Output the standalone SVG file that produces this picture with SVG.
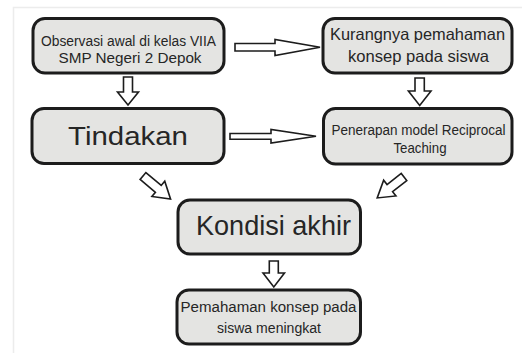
<svg xmlns="http://www.w3.org/2000/svg" width="522" height="353" viewBox="0 0 522 353">
<style>
.box{fill:#e4e4e2;stroke:#1c1c1c;stroke-width:3}
.t{font-family:"Liberation Sans",Arial,sans-serif;fill:#262626;text-anchor:middle}
.arr{fill:#fff;stroke:#1c1c1c;stroke-width:1.6;stroke-linejoin:miter}
</style>
<rect width="522" height="353" fill="#fff"/>
<polyline points="13.5,353 13.5,7.5 522,7.5" fill="none" stroke="#ececec" stroke-width="1.5"/>
<g id="connectors">
<polygon class="arr" points="123.5,77 132.5,77 132.5,92 138.5,92 128,105 117.5,92 123.5,92"/>
<polygon class="arr" points="415,78 424.3,78 424.3,91 431,91 419.7,105.5 408.4,91 415,91"/>
<polygon class="arr" points="269.3,261 278.3,261 278.3,273 284.5,273 273.8,287 263,273 269.3,273"/>
<polygon class="arr" points="235,43.5 275,43.5 275,39.5 320,47.3 275,55.5 275,51 235,51"/>
<polygon class="arr" points="230,133.5 271,133.5 271,129.5 316,136.3 271,143 271,139.3 230,139.3"/>
<polygon class="arr" transform="translate(143,176) rotate(40)" points="0,-4.5 20,-4.5 20,-10 36,0 20,10 20,4.5 0,4.5"/>
<polygon class="arr" transform="translate(404,177) rotate(142)" points="0,-4.5 18,-4.5 18,-10 34,0 18,10 18,4.5 0,4.5"/>
</g>
<g id="observasi">
<rect class="box" x="33" y="18.5" width="191" height="54.5" rx="12"/>
<text class="t" x="128.5" y="46" font-size="14" textLength="175" lengthAdjust="spacingAndGlyphs">Observasi awal di kelas VIIA</text>
<text class="t" x="130" y="63" font-size="14" textLength="143" lengthAdjust="spacingAndGlyphs">SMP Negeri 2 Depok</text>
</g>
<g id="kurangnya">
<rect class="box" x="323" y="18.5" width="189" height="54.5" rx="12"/>
<text class="t" x="417.5" y="40" font-size="16.5" textLength="175" lengthAdjust="spacingAndGlyphs">Kurangnya pemahaman</text>
<text class="t" x="418.5" y="62" font-size="16.5" textLength="141" lengthAdjust="spacingAndGlyphs">konsep pada siswa</text>
</g>
<g id="tindakan">
<rect class="box" x="32" y="108.5" width="192" height="55" rx="12"/>
<text class="t" x="128" y="145" font-size="26" textLength="120" lengthAdjust="spacingAndGlyphs">Tindakan</text>
</g>
<g id="penerapan">
<rect class="box" x="323.5" y="108.5" width="188.5" height="55.5" rx="12"/>
<text class="t" x="418.5" y="135" font-size="14" textLength="174" lengthAdjust="spacingAndGlyphs">Penerapan model Reciprocal</text>
<text class="t" x="420" y="153" font-size="14.5" textLength="53" lengthAdjust="spacingAndGlyphs">Teaching</text>
</g>
<g id="kondisi">
<rect class="box" x="178" y="200" width="182.5" height="54" rx="12"/>
<text class="t" x="273.5" y="235" font-size="28" textLength="155" lengthAdjust="spacingAndGlyphs">Kondisi akhir</text>
</g>
<g id="pemahaman">
<rect class="box" x="177" y="290" width="183.5" height="54" rx="12"/>
<text class="t" x="268.5" y="312" font-size="15.5" textLength="176" lengthAdjust="spacingAndGlyphs">Pemahaman konsep pada</text>
<text class="t" x="269" y="333" font-size="15.5" textLength="104" lengthAdjust="spacingAndGlyphs">siswa meningkat</text>
</g>
</svg>
